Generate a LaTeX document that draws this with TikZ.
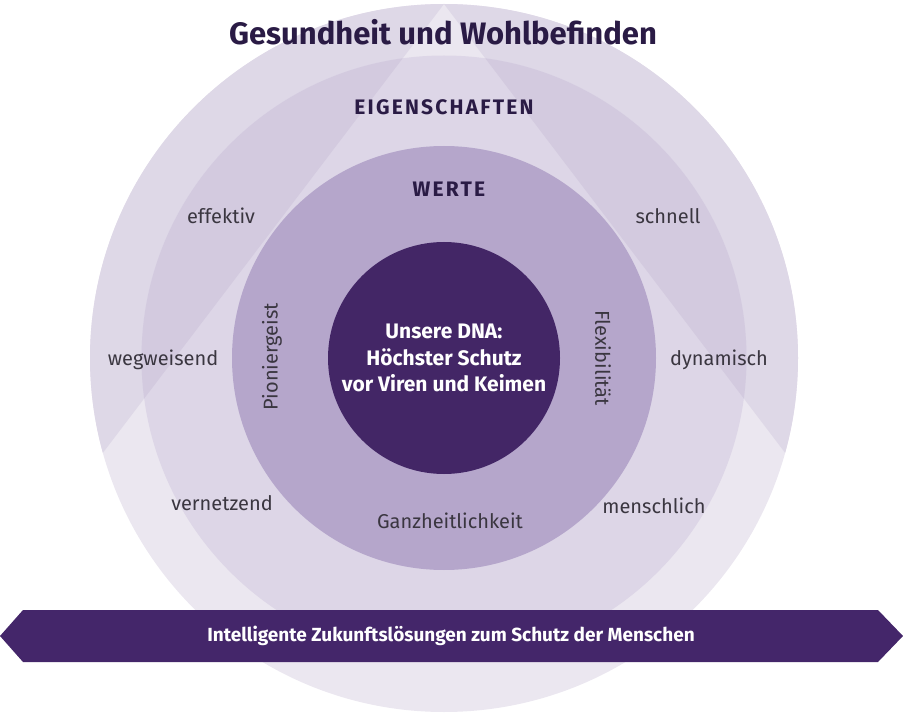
\documentclass[tikz,border=0pt]{standalone}
\usepackage{fontspec}
\setmainfont{Fira Sans}
\definecolor{oin}{HTML}{EBE7F0}
\definecolor{oout}{HTML}{DED8E7}
\definecolor{min}{HTML}{DDD6E7}
\definecolor{mout}{HTML}{D3CADF}
\definecolor{werte}{HTML}{B5A6CB}
\definecolor{dna}{HTML}{432666}
\definecolor{banner}{HTML}{44266A}
\definecolor{head}{HTML}{2A1B45}
\definecolor{lbl}{HTML}{3A3640}
\begin{document}
\begin{tikzpicture}[x=1pt,y=-1pt,
  headtxt/.style={text=head,font=\bfseries\fontsize{21}{22}\selectfont\addfontfeatures{LetterSpace=10.5},inner sep=0pt,anchor=base},
  lbltxt/.style={text=lbl,font=\fontsize{20}{22}\selectfont,inner sep=0pt,anchor=base},
  ring/.style={circle,inner sep=0pt,draw=none}]
\useasboundingbox (0,0) rectangle (903,714);
% outer circle
\node[ring,fill=oin,minimum size=708pt] (outer) at (444,358) {};
\begin{scope}
  \clip (444,358) circle[radius=354pt];
  \fill[oout] (444,4) -- (-316,1004) -- (-400,1004) -- (-400,-100) -- (444,-100) -- cycle;
  \fill[oout] (444,4) -- (1204,1004) -- (1300,1004) -- (1300,-100) -- (444,-100) -- cycle;
\end{scope}
% middle circle
\node[ring,fill=min,minimum size=605pt] (middle) at (444,358) {};
\begin{scope}
  \clip (444,358) circle[radius=302.5pt];
  \fill[mout] (444,4) -- (-316,1004) -- (-400,1004) -- (-400,-100) -- (444,-100) -- cycle;
  \fill[mout] (444,4) -- (1204,1004) -- (1300,1004) -- (1300,-100) -- (444,-100) -- cycle;
\end{scope}
% values circle
\node[ring,fill=werte,minimum size=424pt] (werte) at (444,358) {};
% DNA circle
\node[ring,fill=dna,minimum size=232pt,text=white,align=center,
  font=\bfseries\fontsize{21}{26.5}\selectfont] (dna) at (444,358)
  {Unsere DNA:\\Höchster Schutz\\vor Viren und Keimen};
% title and headings
\node[text=head,font=\bfseries\fontsize{31}{34}\selectfont,inner sep=0pt,anchor=base] (title) at (443,45) {Gesundheit und Wohlbefinden};
\node[headtxt] (eig) at (444,115) {EIGENSCHAFTEN};
\node[headtxt] (wer) at (449,197) {WERTE};
% properties
\node[lbltxt] (effektiv) at (221,224) {effektiv};
\node[lbltxt] (schnell) at (668,224) {schnell};
\node[lbltxt] (wegw) at (163,365) {wegweisend};
\node[lbltxt] (dyn) at (719,365) {dynamisch};
\node[lbltxt] (vern) at (222,510) {vernetzend};
\node[lbltxt] (mensch) at (654,513) {menschlich};
% values
\node[lbltxt] (ganz) at (450,528) {Ganzheitlichkeit};
\node[lbltxt,anchor=center,rotate=90] (pion) at (272,357) {Pioniergeist};
\node[lbltxt,anchor=center,rotate=-90] (flex) at (603,358) {Flexibilität};
% banner
\fill[banner] (0,636) -- (23,610) -- (878,610) -- (903,636) -- (878,662) -- (23,662) -- cycle;
\node[text=white,font=\bfseries\fontsize{19}{22}\selectfont,inner sep=0pt] (band) at (451,636)
  {Intelligente Zukunftslösungen zum Schutz der Menschen};
\end{tikzpicture}
\end{document}
